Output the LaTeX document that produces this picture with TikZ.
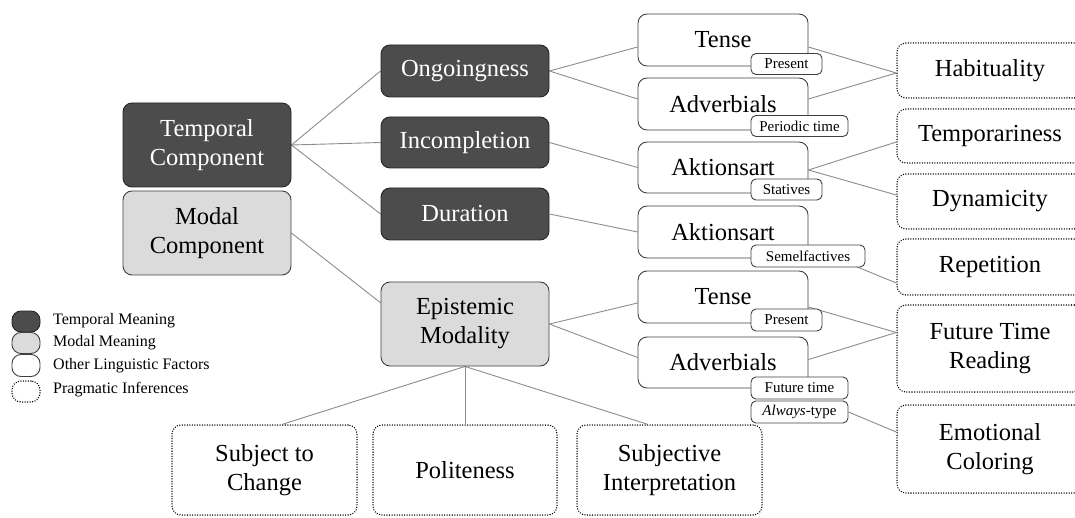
\documentclass[tikz,border=0pt]{standalone}
\usepackage{fontspec}
\setmainfont{LiberationSerif}[Extension=.ttf, UprightFont=*-Regular, ItalicFont=*-Italic, BoldFont=*-Bold]
\usetikzlibrary{calc}
\pgfdeclarelayer{bg}
\pgfsetlayers{bg,main}
\begin{document}
\begin{tikzpicture}[x=1pt,y=-1pt,
 base/.style={rounded corners=9pt, line width=0.9pt, inner sep=0pt, align=center, font=\fontsize{24.5}{29}\selectfont},
 temporal/.style={base, draw=black!85, fill=black!70, text=white},
 modal/.style={base, draw=black!75, fill=black!14},
 factor/.style={base, draw=black!75, fill=white},
 prag/.style={base, draw=black, line width=1.5pt, dash pattern=on 0.01pt off 2.5pt, line cap=round, fill=white},
 tagbox/.style={rounded corners=5pt, draw=black!75, fill=white, line width=0.9pt, inner sep=0pt, minimum height=21pt, font=\fontsize{15}{18}\selectfont},
 link/.style={draw=black!45, line width=0.9pt},
 legbox/.style={rounded corners=5pt, minimum width=28pt, minimum height=21pt},
 legtext/.style={anchor=west, inner sep=0pt, font=\fontsize{16}{19}\selectfont}
]
\path[use as bounding box] (0,0) rectangle (1075,518);
\clip (0,0) rectangle (1075,518);

% level 1
\node[temporal, minimum width=168pt, minimum height=84pt] (tc) at (207,145) {Temporal\\Component};
\node[modal, minimum width=168pt, minimum height=84pt] (mc) at (207,233) {Modal\\Component};

% level 2
\node[temporal, minimum width=168pt, minimum height=52pt] (ong) at (465,71) {Ongoingness};
\node[temporal, minimum width=168pt, minimum height=51pt] (inc) at (465,142.5) {Incompletion};
\node[temporal, minimum width=168pt, minimum height=52pt] (dur) at (465,214) {Duration};
\node[modal, minimum width=168pt, minimum height=84pt] (epi) at (465,324) {Epistemic\\Modality};

% level 3
\node[factor, minimum width=170pt, minimum height=52pt] (t1) at (723,40) {Tense};
\node[factor, minimum width=170pt, minimum height=52pt] (a1) at (723,104) {Adverbials};
\node[factor, minimum width=170pt, minimum height=51pt] (k1) at (723,167.5) {Aktionsart};
\node[factor, minimum width=170pt, minimum height=52pt] (k2) at (723,232) {Aktionsart};
\node[factor, minimum width=170pt, minimum height=52pt] (t2) at (723,297) {Tense};
\node[factor, minimum width=170pt, minimum height=51pt] (a2) at (723,362.5) {Adverbials};

% tags
\node[tagbox, minimum width=71pt] (p1) at (786.5,64) {Present};
\node[tagbox, minimum width=97pt] (pt1) at (799.5,126) {Periodic time};
\node[tagbox, minimum width=71pt] (st) at (786.5,189.5) {Statives};
\node[tagbox, minimum width=114pt, minimum height=22pt] (sem) at (808,256) {Semelfactives};
\node[tagbox, minimum width=71pt, minimum height=22pt] (p2) at (786.5,320) {Present};
\node[tagbox, minimum width=97pt, minimum height=22pt] (ft) at (799.5,388) {Future time};
\node[tagbox, minimum width=97pt, minimum height=22pt] (al) at (799.5,412) {\textit{Always}-type};

% pragmatic inferences (right)
\node[prag, minimum width=186pt, minimum height=55pt] (hab) at (990,70.5) {Habituality};
\node[prag, minimum width=186pt, minimum height=54pt] (tem) at (990,136) {Temporariness};
\node[prag, minimum width=186pt, minimum height=55pt] (dyn) at (990,201.5) {Dynamicity};
\node[prag, minimum width=186pt, minimum height=56pt] (rep) at (990,267) {Repetition};
\node[prag, minimum width=186pt, minimum height=87pt] (ftr) at (990,348.5) {Future Time\\Reading};
\node[prag, minimum width=186pt, minimum height=88pt] (emo) at (990,449) {Emotional\\Coloring};

% pragmatic inferences (bottom)
\node[prag, minimum width=185pt, minimum height=90pt] (stc) at (264.5,470) {Subject to\\Change};
\node[prag, minimum width=184pt, minimum height=90pt] (pol) at (465,470) {Politeness};
\node[prag, minimum width=185pt, minimum height=90pt] (sub) at (669.5,470) {Subjective\\Interpretation};

% legend
\node[legbox, temporal] (lg1) at (26,321.5) {};
\node[legbox, modal] (lg2) at (26,343) {};
\node[legbox, factor, minimum height=22pt] (lg3) at (26,365.5) {};
\node[legbox, prag] (lg4) at (26,391.5) {};
\node[legtext] (lt1) at (53,321) {Temporal Meaning};
\node[legtext] (lt2) at (53,343) {Modal Meaning};
\node[legtext] (lt3) at (53,366) {Other Linguistic Factors};
\node[legtext] (lt4) at (53,390) {Pragmatic Inferences};

\begin{pgfonlayer}{bg}
\draw[link] (tc.east) -- (ong.west);
\draw[link] (tc.east) -- (inc.west);
\draw[link] (tc.east) -- (dur.west);
\draw[link] (mc.east) -- ($(epi.north west)!0.25!(epi.south west)$);
\draw[link] (ong.east) -- ($(t1.west)+(0,7)$);
\draw[link] (ong.east) -- ($(a1.west)+(0,-5)$);
\draw[link] (inc.east) -- (k1.west);
\draw[link] (dur.east) -- (k2.west);
\draw[link] (epi.east) -- ($(t2.west)+(0,6)$);
\draw[link] (epi.east) -- ($(a2.west)+(0,-5)$);
\draw[link] ($(t1.east)+(0,7)$) -- ($(hab.west)+(0,2.5)$);
\draw[link] ($(a1.east)+(0,-5)$) -- ($(hab.west)+(0,2.5)$);
\draw[link] ($(k1.east)+(0,2.5)$) -- ($(tem.west)+(0,6)$);
\draw[link] ($(k1.east)+(0,2.5)$) -- ($(dyn.west)+(0,-6.5)$);
\draw[link] ($(k2.east)+(0,15)$) -- ($(rep.west)+(0,16)$);
\draw[link] ($(t2.east)+(0,10)$) -- ($(ftr.west)+(0,-16)$);
\draw[link] ($(a2.east)+(0,-3)$) -- ($(ftr.west)+(0,-16)$);
\draw[link] (al.east) -- ($(emo.west)+(0,-17)$);
\draw[link] (epi.south) -- ($(stc.north)+(18,0)$);
\draw[link] (epi.south) -- (pol.north);
\draw[link] (epi.south) -- ($(sub.north)+(-22,0)$);
\end{pgfonlayer}
\end{tikzpicture}
\end{document}
